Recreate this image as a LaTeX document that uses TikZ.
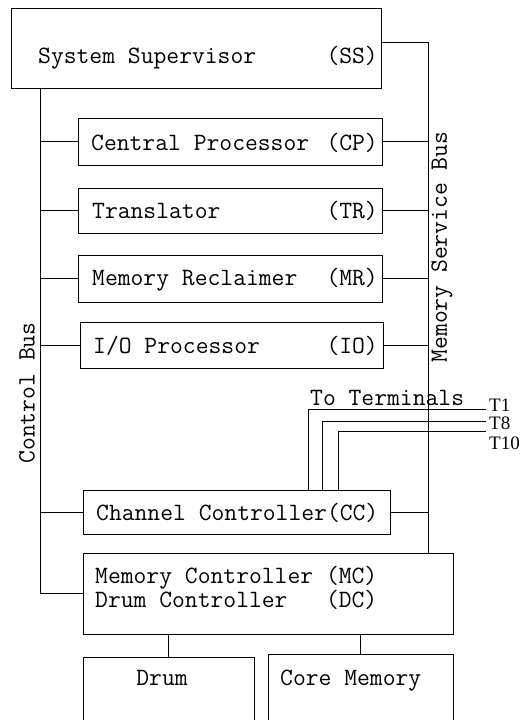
\documentclass[tikz,border=0pt]{standalone}
\usepackage{fontspec}
\newfontfamily\hand{Liberation Serif}
\begin{document}
\begin{tikzpicture}[x=1pt,y=-1pt,
  box/.style={draw, line width=0.9pt, inner sep=0pt, rectangle},
  wire/.style={draw, line width=0.9pt},
  lbl/.style={inner sep=0pt, font=\ttfamily\fontsize{24.9}{27}\selectfont},
  tlbl/.style={inner sep=0pt, font=\hand\fontsize{19}{21}\selectfont, anchor=west}]
\useasboundingbox (0,0) rectangle (531,720);
\clip (0,0) rectangle (531,720);

% processor boxes
\node[box, minimum width=370pt, minimum height=80pt] (ss) at (196,48) {};
\node[box, minimum width=304pt, minimum height=47pt] (cp) at (230,141.5) {};
\node[box, minimum width=304pt, minimum height=45pt] (tr) at (230,210.5) {};
\node[box, minimum width=304pt, minimum height=47pt] (mr) at (230,278.5) {};
\node[box, minimum width=303pt, minimum height=46pt] (io) at (231.5,345) {};
\node[box, minimum width=307pt, minimum height=44pt] (cc) at (236.5,512) {};
\node[box, minimum width=370pt, minimum height=81pt] (mc) at (268,593.5) {};
\node[box, minimum width=171pt, minimum height=90pt] (drum) at (168.5,702) {};
\node[box, minimum width=185pt, minimum height=90pt] (core) at (360.5,699) {};

% box texts
\node[lbl, anchor=base west] (ssname) at (38,63) {System Supervisor};
\node[lbl, anchor=base east] (sscode) at (378,63) {(SS)};
\node[lbl, anchor=base west] (cpname) at (91,150) {Central Processor};
\node[lbl, anchor=base east] (cpcode) at (378,150) {(CP)};
\node[lbl, anchor=base west] (trname) at (92,218) {Translator};
\node[lbl, anchor=base east] (trcode) at (378,218) {(TR)};
\node[lbl, anchor=base west] (mrname) at (92,285) {Memory Reclaimer};
\node[lbl, anchor=base east] (mrcode) at (378,285) {(MR)};
\node[lbl, anchor=base west] (ioname) at (93,353) {I/O Processor};
\node[lbl, anchor=base east] (iocode) at (378,353) {(IO)};
\node[lbl, anchor=base west] (ccname) at (96,520) {Channel Controller(CC)};
\node[lbl, anchor=north west, align=left,
      font=\ttfamily\fontsize{24.9}{21.5}\selectfont] (mcname) at (95,566.5)
  {Memory Controller (MC)\\Drum Controller\ \ \ (DC)};
\node[lbl, anchor=base] (drumname) at (162,685) {Drum};
\node[lbl, anchor=base west] (corename) at (280,685) {Core Memory};

% bus positions
\coordinate (cbT) at (40,88);
\coordinate (msbT) at (428,42);

% control bus
\draw[wire] (cbT) |- (mc.west);
\foreach \b in {cp,tr,mr,io,cc} \draw[wire] (\b.west -| cbT) -- (\b.west);

% memory service bus
\draw[wire] ([yshift=6pt]ss.east) -- (msbT) -- (mc.north -| msbT);
\foreach \b in {cp,tr,mr,io,cc} \draw[wire] (\b.east) -- (\b.east -| msbT);

% memory controller to storage
\draw[wire] (mc.south -| drum.north) -- (drum.north);
\draw[wire] (mc.south -| core.north) -- (core.north);

% terminal lines
\coordinate (t1) at (486,409);
\coordinate (t8) at (486,421);
\coordinate (t10) at (486,431);
\draw[wire] ([xshift=226pt]cc.north west) |- (t1);
\draw[wire] ([xshift=240pt]cc.north west) |- (t8);
\draw[wire] ([xshift=256pt]cc.north west) |- (t10);
\node[lbl, anchor=base west] (toterm) at (310,405) {To Terminals};
\node[tlbl] (lt1) at (489,405) {T1};
\node[tlbl] (lt8) at (489,423) {T8};
\node[tlbl] (lt10) at (489,443) {T10};

% bus names
\node[lbl, rotate=90] (cbname) at (27,393) {Control Bus};
\node[lbl, rotate=90] (msbname) at (442,247) {Memory Service Bus};
\end{tikzpicture}
\end{document}
